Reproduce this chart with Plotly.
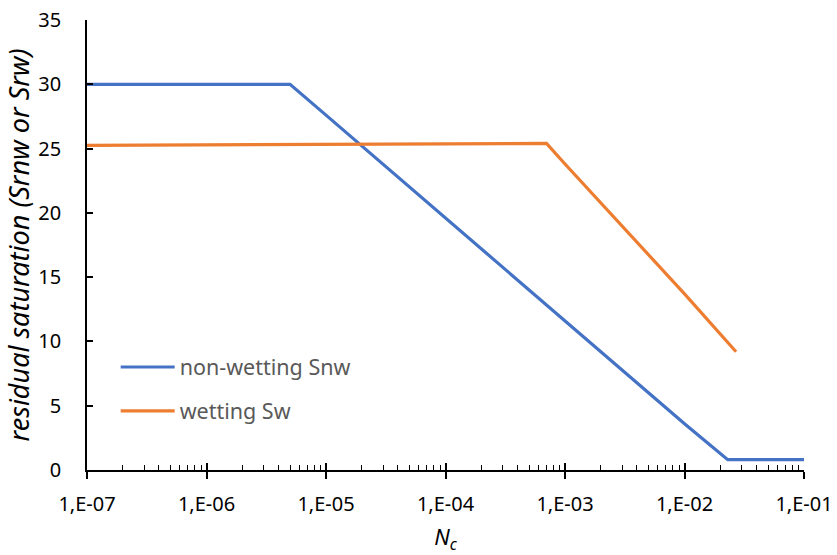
import plotly.graph_objects as go

# Residual saturation vs. capillary number Nc
nc_nonwet = [1e-7, 1e-6, 5e-6, 1e-5, 1e-4, 1e-3, 1e-2, 2.3e-2, 1e-1]
s_nonwet = [30.0, 30.0, 30.0, 27.6, 19.6, 11.6, 3.6, 0.8, 0.8]

nc_wet = [1e-7, 1e-5, 7e-4, 1e-3, 1e-2, 2.7e-2]
s_wet = [25.25, 25.33, 25.4, 23.8, 13.7, 9.2]

x_tickvals = [1e-7, 1e-6, 1e-5, 1e-4, 1e-3, 1e-2, 1e-1]
x_ticktext = ["1,E-07", "1,E-06", "1,E-05", "1,E-04", "1,E-03", "1,E-02", "1,E-01"]
y_tickvals = [0, 5, 10, 15, 20, 25, 30, 35]

minor_vals = [m * d for d in x_tickvals[:-1] for m in range(2, 10)]

FONT = "Noto Sans"
BLUE = "#4472C4"
ORANGE = "#ED7D31"

fig = go.Figure()
fig.add_trace(go.Scatter(
    x=nc_nonwet, y=s_nonwet, mode="lines", name="non-wetting Snw",
    line=dict(color=BLUE, width=3.2),
    legendgroup="a",
))
fig.add_trace(go.Scatter(
    x=nc_wet, y=s_wet, mode="lines", name="wetting Sw",
    line=dict(color=ORANGE, width=3.2),
    legendgroup="b",
))
# invisible trace carrying the upper half of the crossing major ticks
fig.add_trace(go.Scatter(
    x=[1e-7, 1e-1], y=[None, None], xaxis="x2", showlegend=False,
    hoverinfo="skip",
))

fig.update_layout(
    width=837, height=555,
    margin=dict(l=87, r=33, t=20, b=85),
    paper_bgcolor="white", plot_bgcolor="white",
    font=dict(family=FONT, size=20, color="#000000"),
    showlegend=True,
    legend=dict(
        x=0.040, y=0.18, xanchor="left", yanchor="middle",
        bgcolor="rgba(0,0,0,0)", font=dict(size=21.5, color="#595959"),
        itemwidth=54, tracegroupgap=13,
    ),
    xaxis=dict(
        type="log", range=[-7, -1], automargin=False,
        tickmode="array", tickvals=x_tickvals, ticktext=x_ticktext,
        ticks="outside", ticklen=7, tickwidth=1.5, tickcolor="black",
        showline=True, linecolor="black", linewidth=1.5,
        showgrid=False, zeroline=False,
        ticklabelstandoff=8,
        minor=dict(ticks="inside", ticklen=5, tickwidth=1.2, tickcolor="black",
                   tickmode="array", tickvals=minor_vals, showgrid=False),
        title=dict(text="<i>N<sub>c</sub></i>", font=dict(size=22), standoff=20),
    ),
    xaxis2=dict(
        type="log", range=[-7, -1], overlaying="x", side="bottom",
        automargin=False,
        tickmode="array", tickvals=x_tickvals, showticklabels=False,
        ticks="inside", ticklen=7, tickwidth=1.5, tickcolor="black",
        showline=False, showgrid=False, zeroline=False,
    ),
    yaxis=dict(
        range=[0, 35], tickmode="array", tickvals=y_tickvals, automargin=False,
        ticks="inside", ticklen=6, tickwidth=1.5, tickcolor="black",
        showline=True, linecolor="black", linewidth=1.5,
        showgrid=False, zeroline=False,
        ticklabelstandoff=20,
        tickfont=dict(size=20),
        title=dict(text="<i>residual saturation (Srnw or Srw)</i>",
                   font=dict(size=27), standoff=6),
    ),
)

fig.write_html("out.html")
